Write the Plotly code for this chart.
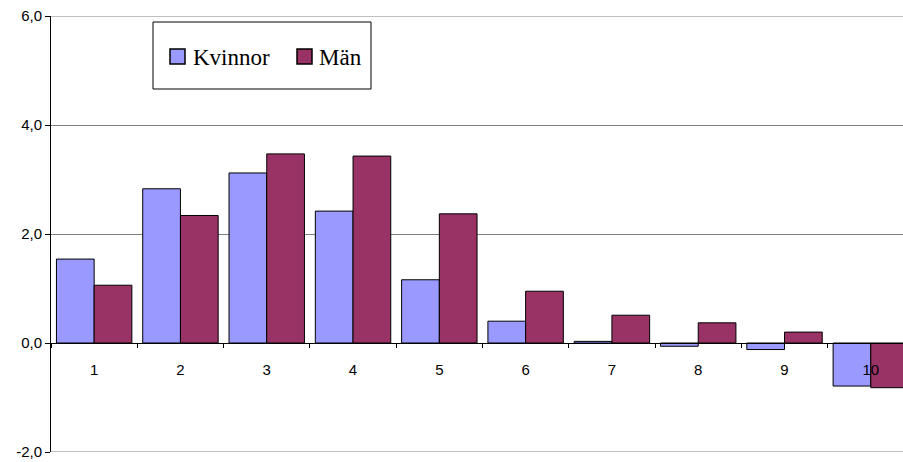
import plotly.graph_objects as go

categories = ["1", "2", "3", "4", "5", "6", "7", "8", "9", "10"]
kvinnor = [1.54, 2.83, 3.12, 2.42, 1.16, 0.40, 0.03, -0.06, -0.12, -0.79]
man = [1.06, 2.34, 3.47, 3.43, 2.37, 0.95, 0.51, 0.37, 0.20, -0.82]
y_ticks = [-2, 0, 2, 4, 6]
y_tick_labels = ["-2,0", "0,0", "2,0", "4,0", "6,0"]
series_names = ["Kvinnor", "Män"]
series_colors = ["#9999FF", "#993366"]

fig = go.Figure()
for name, vals, col in zip(series_names, [kvinnor, man], series_colors):
    fig.add_trace(go.Bar(x=categories, y=vals, name=name, showlegend=False,
                         marker=dict(color=col, line=dict(color="black", width=1))))

W, H = 903, 462
L, R, T, B = 51, 0, 16, 10
pw, ph = W - L - R, H - T - B

def px_x(x):
    return (x - L) / pw

def px_y(y):
    return (H - B - y) / ph

# Gridlines at the range edges (plotly omits them at the plot border)
shapes = [dict(type="line", xref="paper", yref="y", x0=0, x1=1, y0=v, y1=v,
               line=dict(color="#808080", width=1), layer="below")
          for v in (y_ticks[0], y_ticks[-1])]

# Legend drawn as box + swatches + text (paper coordinates)
shapes.append(dict(type="rect", xref="paper", yref="paper",
                   x0=px_x(153), x1=px_x(371), y0=px_y(89), y1=px_y(22),
                   line=dict(color="black", width=1), fillcolor="white", layer="above"))
annotations = []
sw_x = [170, 297]
tx_x = [191, 317]
for name, col, sx, tx in zip(series_names, series_colors, sw_x, tx_x):
    shapes.append(dict(type="rect", xref="paper", yref="paper",
                       x0=px_x(sx), x1=px_x(sx + 15), y0=px_y(64), y1=px_y(49),
                       line=dict(color="black", width=1.5), fillcolor=col, layer="above"))
    annotations.append(dict(xref="paper", yref="paper", x=px_x(tx), y=px_y(57),
                            xanchor="left", yanchor="middle", showarrow=False, text=name,
                            font=dict(family="Liberation Serif, Times New Roman, serif",
                                      size=23, color="black")))

fig.update_layout(
    width=W, height=H,
    margin=dict(l=L, r=R, t=T, b=B, autoexpand=False),
    plot_bgcolor="white", paper_bgcolor="white",
    separators=", ",
    barmode="group", bargap=0.126, bargroupgap=0,
    font=dict(family="Liberation Sans, Arial, sans-serif", size=15, color="black"),
    showlegend=False,
    shapes=shapes,
    annotations=annotations,
    xaxis=dict(type="category", range=[-0.5, 9.373], anchor="free", position=0.25,
               showline=True, linecolor="black", linewidth=1,
               ticks="outside", tickson="boundaries", ticklen=4, tickcolor="black",
               ticklabelstandoff=13, showgrid=False, zeroline=False,
               tickfont=dict(size=15)),
    yaxis=dict(range=[-2, 6], tickvals=y_ticks, ticktext=y_tick_labels,
               showline=True, linecolor="black", linewidth=1,
               ticks="outside", ticklen=5, tickcolor="black",
               showgrid=True, gridcolor="#808080", gridwidth=1,
               zeroline=True, zerolinecolor="black", zerolinewidth=1,
               tickfont=dict(size=15)),
)

fig.write_html("out.html", config={"displayModeBar": False},
               post_script="document.body.style.margin='0px';")
